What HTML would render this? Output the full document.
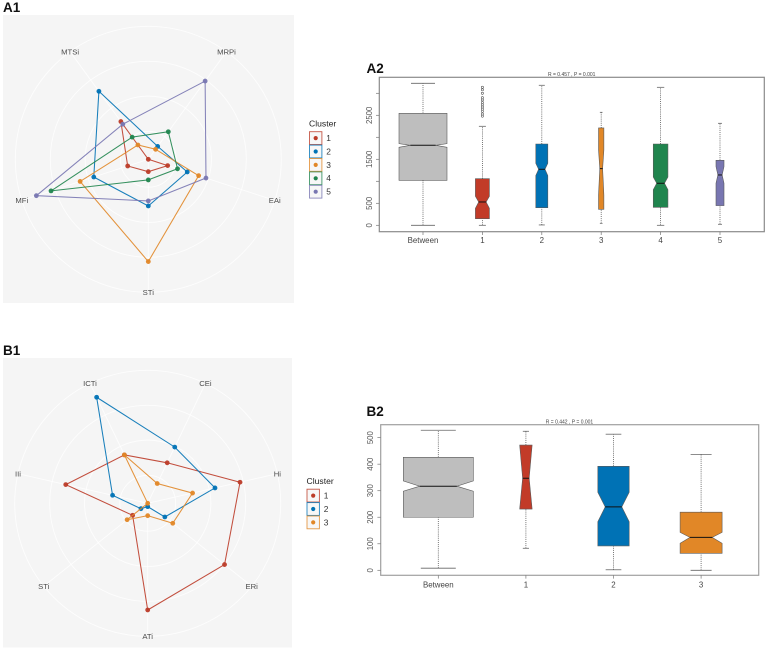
<!DOCTYPE html>
<html>
<head>
<meta charset="utf-8">
<title>Cluster radar and boxplot charts</title>
<style>
html,body{margin:0;padding:0;background:#fff;}
svg{display:block;font-family:"Liberation Sans",sans-serif;filter:blur(0.3px);}
</style>
</head>
<body>
<svg id="fig" width="767" height="650" viewBox="0 0 767 650" xmlns="http://www.w3.org/2000/svg"></svg>
<script>
/* ---------- palette ---------- */
const clusterColors = ['#BC3C29', '#0072B5', '#E18727', '#20854E', '#7876B1'];
const b1Colors = ['#BC3C29', '#0072B5', '#E18727'];

/* ---------- A1 radar data ---------- */
const a1Axes = ['MRPi', 'EAi', 'STi', 'MFi', 'MTSi'];
const a1Clusters = ['1', '2', '3', '4', '5'];
const a1Cluster1 = [0, 15.3, 9.3, 16.3, 35.1];
const a1Cluster2 = [12, 30.8, 35.1, 43.1, 63.2];
const a1Cluster3 = [9.3, 39.8, 76.9, 53.9, 13.3];
const a1Cluster4 = [25.6, 23.1, 15.5, 76.9, 20.6];
const a1Cluster5 = [72.7, 45.6, 31.3, 88.5, 32.6];

/* ---------- B1 radar data ---------- */
const b1Axes = ['ICTi', 'CEi', 'Hi', 'ERi', 'ATi', 'STi', 'IIi'];
const b1Clusters = ['1', '2', '3'];
const b1Cluster1 = [40.4, 33.8, 71.2, 73.9, 80.2, 14.5, 63.2];
const b1Cluster2 = [88.5, 46.9, 51.9, 16.5, 2.5, 6.5, 27.1];
const b1Cluster3 = [40.4, 16.5, 34.6, 24.1, 9.3, 19.8, 0];
const radarGridLevels = [21, 47.5, 73.7, 100];

/* ---------- A2 boxplot data ---------- */
const a2Categories = ['Between', '1', '2', '3', '4', '5'];
const a2WhiskerLow = [0, 0, 8, 45, 0, 23];
const a2Q1 = [1023, 150, 400, 364, 409, 447];
const a2NotchLow = [1773, 386, 1130, 690, 810, 955];
const a2Median = [1818, 530, 1273, 1288, 955, 1144];
const a2NotchHigh = [1856, 660, 1410, 1712, 1098, 1333];
const a2Q3 = [2545, 1060, 1848, 2212, 1848, 1477];
const a2WhiskerHigh = [3227, 2250, 3182, 2568, 3136, 2318];
const a2BoxCounts = [72, 21, 18, 8, 22, 12];
const a2Outliers = [2480, 2530, 2590, 2640, 2690, 2740, 2790, 2850, 2900, 3000, 3080, 3136];
const a2Ticks = [0, 500, 1000, 1500, 2000, 2500, 3000];
const a2TickLabels = ['0', '500', '', '1500', '', '2500', ''];
const a2Fills = ['#BEBEBE', '#C23B28', '#0072B5', '#E18727', '#20854E', '#7876B1'];

/* ---------- B2 boxplot data ---------- */
const b2Categories = ['Between', '1', '2', '3'];
const b2WhiskerLow = [8, 83, 2, 0];
const b2Q1 = [200, 231, 92, 64];
const b2NotchLow = [298, 233, 183, 102];
const b2Median = [317, 347, 239, 124];
const b2NotchHigh = [337, 470, 294, 143];
const b2Q3 = [426, 472, 392, 219];
const b2WhiskerHigh = [528, 524, 513, 437];
const b2BoxCounts = [105, 18.5, 47, 63];
const b2Ticks = [0, 100, 200, 300, 400, 500];
const b2TickLabels = ['0', '100', '200', '300', '400', '500'];
const b2Fills = ['#BEBEBE', '#C23B28', '#0072B5', '#E18727'];

const svgNS = 'http://www.w3.org/2000/svg';
const root = document.getElementById('fig');

function make(parent, tag, attrs, text) {
  const el = document.createElementNS(svgNS, tag);
  for (const k in attrs) el.setAttribute(k, attrs[k]);
  if (text !== undefined) el.textContent = text;
  parent.appendChild(el);
  return el;
}
function group(parent, name) {
  const g = make(parent, 'g', {});
  
  
  return g;
}

/* ---------- panel tags ---------- */
function panelTag(label, x, y) {
  const t = make(root, 'text', {x: x, y: y, 'font-size': 13.5, 'font-weight': 'bold', fill: '#111'}, label);
  
  
}

/* ---------- radar ---------- */
function drawRadar(cfg) {
  const g = group(root, cfg.name);
  const bg = make(g, 'rect', {x: cfg.px, y: cfg.py, width: cfg.pw, height: cfg.ph, fill: '#F5F5F5'});
  
  
  const n = cfg.axes.length;
  const angle = i => cfg.start + i * 2 * Math.PI / n;
  const rScale = v => v / 100 * cfg.R;
  const xAt = (i, v) => cfg.cx + rScale(v) * Math.sin(angle(i));
  const yAt = (i, v) => cfg.cy - rScale(v) * Math.cos(angle(i));

  radarGridLevels.forEach(function (lv) {
    const c = make(g, 'circle', {cx: cfg.cx, cy: cfg.cy, r: rScale(lv), fill: 'none', stroke: '#fff', 'stroke-width': 0.9, 'stroke-opacity': 0.8});
    
    
  });
  cfg.axes.forEach(function (a, i) {
    const l = make(g, 'line', {x1: cfg.cx, y1: cfg.cy, x2: xAt(i, 100), y2: yAt(i, 100), stroke: '#fff', 'stroke-width': 0.9, 'stroke-opacity': 0.8});
    
    
  });
  cfg.axes.forEach(function (a, i) {
    const t = make(g, 'text', {x: xAt(i, 100), y: yAt(i, 100) + 2.7, 'text-anchor': 'middle', 'font-size': 7.7, fill: '#4d4d4d'}, a);
    
    
  });
  cfg.series.forEach(function (vals, s) {
    const sg = group(g, 'radar-series-' + cfg.clusters[s]);
    const pts = vals.map((v, i) => xAt(i, v).toFixed(2) + ',' + yAt(i, v).toFixed(2)).join(' ');
    const poly = make(sg, 'polygon', {points: pts, fill: 'none', stroke: cfg.colors[s], 'stroke-width': 1.05, 'stroke-opacity': 0.9});
    
    
    vals.forEach(function (v, i) {
      const d = make(sg, 'circle', {cx: xAt(i, v), cy: yAt(i, v), r: 2.4, fill: cfg.colors[s], 'fill-opacity': 0.95});
      
      
    });
  });
  /* legend */
  const lg = group(g, 'legend');
  const title = make(lg, 'text', {x: cfg.lx, y: cfg.ly, 'font-size': 8.6, fill: '#222'}, 'Cluster');
  
  
  cfg.clusters.forEach(function (c, i) {
    const y0 = cfg.ly + 5.2 + i * 13.4;
    const entry = group(lg, 'legend-entry-' + c);
    const box = make(entry, 'rect', {x: cfg.lx + 0.5, y: y0, width: 12.4, height: 12.8, fill: '#F7F7F7', stroke: cfg.colors[i], 'stroke-width': 0.9, 'stroke-opacity': 0.85});
    
    
    const dot = make(entry, 'circle', {cx: cfg.lx + 6.7, cy: y0 + 6.4, r: 2.1, fill: cfg.colors[i]});
    
    
    const lab = make(entry, 'text', {x: cfg.lx + 17.3, y: y0 + 9.3, 'font-size': 8.4, fill: '#333'}, c);
    
    
  });
}

/* ---------- boxplot ---------- */
function drawBox(cfg) {
  const g = group(root, cfg.name);
  const yPos = v => cfg.y0 - v * cfg.yScale;
  const xPos = i => cfg.x0 + i * cfg.xStep;
  const frame = make(g, 'rect', {x: cfg.left, y: cfg.top, width: cfg.right - cfg.left, height: cfg.bottom - cfg.top, fill: '#fff', stroke: cfg.frame, 'stroke-width': 1.2});
  
  
  const ttl = make(g, 'text', {x: cfg.titleX, y: cfg.titleY, 'text-anchor': 'middle', 'font-size': 5, fill: '#444'}, cfg.title);
  
  

  cfg.ticks.forEach(function (tv, i) {
    const y = yPos(tv);
    const tk = make(g, 'line', {x1: cfg.left - 3.3, x2: cfg.left, y1: y, y2: y, stroke: '#777', 'stroke-width': 0.7});
    
    
    if (cfg.tickLabels[i]) {
      const t = make(g, 'text', {x: cfg.ylabX, y: y, 'text-anchor': 'middle', 'font-size': 7.8, fill: '#555',
        transform: 'rotate(-90 ' + cfg.ylabX + ' ' + y + ')', dy: '0.36em'}, cfg.tickLabels[i]);
      
      
    }
  });

  cfg.categories.forEach(function (cat, i) {
    const x = xPos(i);
    const hw = cfg.widths[i] * cfg.widthScale;
    const cg = group(g, 'box-' + cat.toLowerCase());
    const tk = make(cg, 'line', {x1: x, x2: x, y1: cfg.bottom, y2: cfg.bottom + 3.3, stroke: '#777', 'stroke-width': 0.7});
    
    
    const xl = make(cg, 'text', {x: x, y: cfg.xlabY, 'text-anchor': 'middle', 'font-size': 7.9, fill: '#444'}, cat);
    
    

    const wl = make(cg, 'line', {x1: x, x2: x, y1: yPos(cfg.wLow[i]), y2: yPos(cfg.q1[i]), stroke: '#555', 'stroke-width': 0.8, 'stroke-dasharray': '1 1.1'});
    
    
    const wh = make(cg, 'line', {x1: x, x2: x, y1: yPos(cfg.q3[i]), y2: yPos(cfg.wHigh[i]), stroke: '#555', 'stroke-width': 0.8, 'stroke-dasharray': '1 1.1'});
    
    
    const capL = make(cg, 'line', {x1: x - hw / 2, x2: x + hw / 2, y1: yPos(cfg.wLow[i]), y2: yPos(cfg.wLow[i]), stroke: '#666', 'stroke-width': 0.8});
    
    
    const capH = make(cg, 'line', {x1: x - hw / 2, x2: x + hw / 2, y1: yPos(cfg.wHigh[i]), y2: yPos(cfg.wHigh[i]), stroke: '#666', 'stroke-width': 0.8});
    
    

    const nh = hw * 0.53;
    const p = [
      [x - hw, yPos(cfg.q1[i])], [x + hw, yPos(cfg.q1[i])],
      [x + hw, yPos(cfg.nLow[i])], [x + nh, yPos(cfg.med[i])],
      [x + hw, yPos(cfg.nHigh[i])], [x + hw, yPos(cfg.q3[i])],
      [x - hw, yPos(cfg.q3[i])], [x - hw, yPos(cfg.nHigh[i])],
      [x - nh, yPos(cfg.med[i])], [x - hw, yPos(cfg.nLow[i])]
    ].map(q => q[0].toFixed(2) + ',' + q[1].toFixed(2)).join(' ');
    const body = make(cg, 'polygon', {points: p, fill: cfg.fills[i], stroke: '#5a5a5a', 'stroke-width': 0.6});
    
    
    const md = make(cg, 'line', {x1: x - nh, x2: x + nh, y1: yPos(cfg.med[i]), y2: yPos(cfg.med[i]), stroke: '#111', 'stroke-width': 1});
    
    
  });

  (cfg.outliers || []).forEach(function (v) {
    const o = make(g, 'circle', {cx: xPos(cfg.outlierCat), cy: yPos(v), r: 1.1, fill: '#fff', stroke: '#555', 'stroke-width': 0.6});
    
    
  });
}

panelTag('A1', 3, 12);
panelTag('A2', 366.5, 73);
panelTag('B1', 3, 355);
panelTag('B2', 366.5, 416);

drawRadar({name: 'radar-chart-a1', px: 3, py: 15, pw: 291, ph: 288, cx: 148.3, cy: 159.3, R: 133, start: Math.PI / 5,
  axes: a1Axes, clusters: a1Clusters, colors: clusterColors,
  series: [a1Cluster1, a1Cluster2, a1Cluster3, a1Cluster4, a1Cluster5], lx: 309, ly: 126.5});

drawRadar({name: 'radar-chart-b1', px: 3, py: 358, pw: 289, ph: 289.5, cx: 147.7, cy: 503.3, R: 133, start: -Math.PI / 7,
  axes: b1Axes, clusters: b1Clusters, colors: b1Colors,
  series: [b1Cluster1, b1Cluster2, b1Cluster3], lx: 306.5, ly: 484});

drawBox({name: 'boxplot-a2', left: 379.3, right: 764.3, top: 77.3, bottom: 231.7, frame: '#8a8a8a',
  x0: 423, xStep: 59.4, y0: 225.3, yScale: 0.044, widthScale: 1 / 3,
  title: 'R = 0.457 , P = 0.001', titleX: 571.7, titleY: 76, ylabX: 369.3, xlabY: 243,
  categories: a2Categories, wLow: a2WhiskerLow, q1: a2Q1, nLow: a2NotchLow, med: a2Median,
  nHigh: a2NotchHigh, q3: a2Q3, wHigh: a2WhiskerHigh, widths: a2BoxCounts, fills: a2Fills,
  ticks: a2Ticks, tickLabels: a2TickLabels, outliers: a2Outliers, outlierCat: 1});

drawBox({name: 'boxplot-b2', left: 380.7, right: 758.7, top: 424.7, bottom: 575.3, frame: '#a0a0a0',
  x0: 438.3, xStep: 87.6, y0: 570.3, yScale: 0.2653, widthScale: 1 / 3,
  title: 'R = 0.442 , P = 0.001', titleX: 569.5, titleY: 423.3, ylabX: 370, xlabY: 587.3,
  categories: b2Categories, wLow: b2WhiskerLow, q1: b2Q1, nLow: b2NotchLow, med: b2Median,
  nHigh: b2NotchHigh, q3: b2Q3, wHigh: b2WhiskerHigh, widths: b2BoxCounts, fills: b2Fills,
  ticks: b2Ticks, tickLabels: b2TickLabels});
</script>
</body>
</html>
